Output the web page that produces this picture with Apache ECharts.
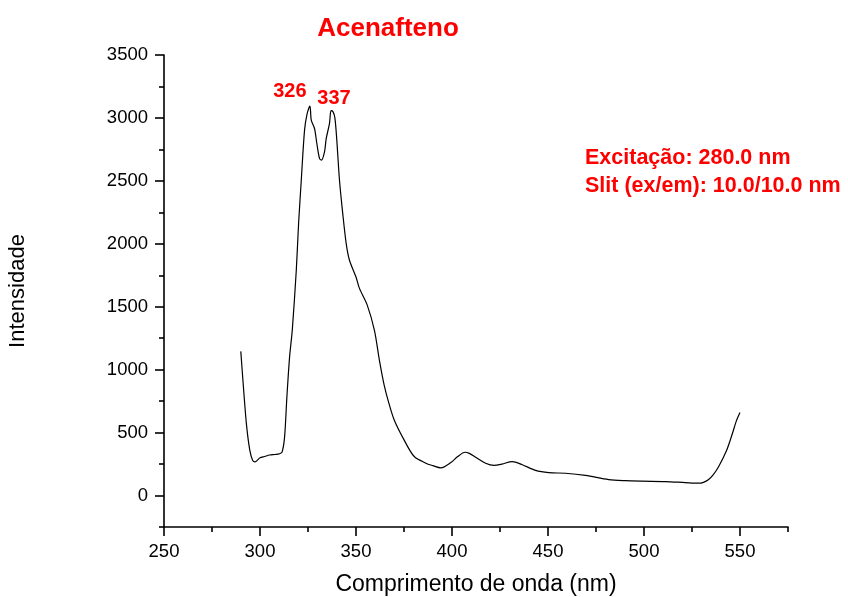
<!DOCTYPE html>
<html>
<head>
<meta charset="utf-8">
<script src="https://cdn.jsdelivr.net/npm/echarts@6/dist/echarts.min.js"></script>
<style>
  html, body { margin: 0; padding: 0; background: #ffffff; }
  #chart { width: 848px; height: 597px; }
</style>
</head>
<body>
<div id="chart"></div>
<script>
// Emission spectrum of acenaphthene (wavelength in nm, intensity in a.u.)
const wavelength = [
  290, 291.5, 293, 294.7, 296.2, 297.5, 300, 302.4, 305, 308, 310.2, 311.5,
  312.8, 314, 315.4, 316.8, 318.9, 320.1, 321.5, 323.2, 324.5, 326, 326.7,
  328.4, 329.6, 331, 332, 333.6, 334.5, 336.2, 337, 338, 339, 340, 341.4,
  343.1, 344.9, 346.6, 350, 351.8, 355.9, 359.6, 362.2, 364.7, 367, 369.9,
  375.1, 380.3, 386.4, 390, 394.2, 399.4, 403, 406.8, 409, 412.3, 417.5,
  421.9, 426, 431.4, 436.6, 443.5, 450.4, 459.1, 469.5, 481.6, 490, 498.9,
  511, 521.4, 528.3, 531, 533.5, 536, 538.7, 543, 546, 548.2, 550
];
const intensity = [
  1145, 835, 557, 358, 278, 268, 300, 310, 322, 326, 332, 345,
  464, 782, 1100, 1312, 1790, 2161, 2505, 2903, 3030, 3095, 2983,
  2916, 2797, 2678, 2665, 2731, 2837, 2957, 3058, 3050, 3000, 2824, 2505,
  2240, 2002, 1869, 1736, 1646, 1511, 1312, 1074, 875, 740, 600,
  440, 310, 257, 238, 220, 262, 310, 344, 335, 305, 257,
  240, 250, 270, 245, 200, 182, 177, 160, 127, 118, 114,
  111, 103, 98, 105, 125, 165, 225, 358, 491, 597, 660
];

// Peak positions marked on the spectrum
const peakWavelengths = [326, 337];

// Axis ticks
const xMajorTicks = [250, 300, 350, 400, 450, 500, 550];
const xMinorTicks = [275, 325, 375, 425, 475, 525, 575];
const yMajorTicks = [0, 500, 1000, 1500, 2000, 2500, 3000, 3500];
const yMinorTicks = [-250, 250, 750, 1250, 1750, 2250, 2750, 3250];

const titleText = 'Acenafteno';
const infoLines = ['Excitação: 280.0 nm', 'Slit (ex/em): 10.0/10.0 nm'];

const points = wavelength.map((w, i) => [w, intensity[i]]);
const peakOffsets = [[-20, -14], [3, -12]];
const peakMarks = peakWavelengths.map((w, i) => {
  const idx = wavelength.indexOf(w);
  return {
    coord: [w, intensity[idx]],
    label: { formatter: String(w), offset: peakOffsets[i] }
  };
});

const FONT = '"Liberation Sans", Arial, Helvetica, sans-serif';
const RED = '#ff0000';
const axisLineStyle = { color: '#000', width: 1.6 };
const plain = v => String(v);

const chart = echarts.init(document.getElementById('chart'), null, { renderer: 'canvas' });

const xBase = {
  type: 'value', min: 250, max: 575,
  splitLine: { show: false },
  axisLine: { onZero: false, lineStyle: axisLineStyle }
};
const yBase = {
  type: 'value', min: -250, max: 3500,
  splitLine: { show: false },
  axisLine: { onZero: false, lineStyle: axisLineStyle }
};

chart.setOption({
  animation: false,
  backgroundColor: '#ffffff',
  grid: { left: 164, right: 60, top: 55, bottom: 70, containLabel: false, outerBoundsMode: 'none' },
  xAxis: [
    Object.assign({}, xBase, {
      position: 'bottom',
      name: 'Comprimento de onda (nm)',
      nameLocation: 'middle',
      nameGap: 46,
      nameTextStyle: { fontFamily: FONT, fontSize: 23, color: '#000' },
      axisTick: { show: true, length: 9, lineStyle: { color: '#000', width: 1.6 }, customValues: xMajorTicks },
      axisLabel: { show: true, margin: 15, fontFamily: FONT, fontSize: 18.5, color: '#000', formatter: plain, customValues: xMajorTicks }
    }),
    Object.assign({}, xBase, {
      position: 'bottom',
      axisLine: { show: false, onZero: false },
      axisTick: { show: true, length: 5, lineStyle: { color: '#000', width: 1.6 }, customValues: xMinorTicks },
      axisLabel: { show: false }
    })
  ],
  yAxis: [
    Object.assign({}, yBase, {
      position: 'left',
      name: 'Intensidade',
      nameLocation: 'middle',
      nameGap: 135,
      nameTextStyle: { fontFamily: FONT, fontSize: 22, color: '#000' },
      axisTick: { show: true, length: 9, lineStyle: { color: '#000', width: 1.6 }, customValues: yMajorTicks },
      axisLabel: { show: true, margin: 16, fontFamily: FONT, fontSize: 18.5, color: '#000', formatter: plain, customValues: yMajorTicks }
    }),
    Object.assign({}, yBase, {
      position: 'left',
      axisLine: { show: false, onZero: false },
      axisTick: { show: true, length: 5, lineStyle: { color: '#000', width: 1.6 }, customValues: yMinorTicks },
      axisLabel: { show: false }
    })
  ],
  series: [{
    type: 'line',
    xAxisIndex: 0,
    yAxisIndex: 0,
    data: points,
    showSymbol: false,
    smooth: 0.3,
    lineStyle: { color: '#000', width: 1.2 },
    markPoint: {
      symbol: 'circle',
      symbolSize: 0,
      label: {
        show: true,
        position: 'inside',
        fontFamily: FONT,
        fontSize: 20,
        fontWeight: 'bold',
        color: RED
      },
      data: peakMarks
    }
  }],
  graphic: [
    {
      type: 'text', x: 388, y: 29,
      style: {
        text: titleText, fontFamily: FONT, fontSize: 26, fontWeight: 'bold',
        fill: RED, textAlign: 'center', textVerticalAlign: 'middle'
      }
    },
    {
      type: 'text', x: 585, y: 158,
      style: {
        text: infoLines[0], fontFamily: FONT, fontSize: 21.5, fontWeight: 'bold',
        fill: RED, textAlign: 'left', textVerticalAlign: 'middle'
      }
    },
    {
      type: 'text', x: 585, y: 186,
      style: {
        text: infoLines[1], fontFamily: FONT, fontSize: 21.5, fontWeight: 'bold',
        fill: RED, textAlign: 'left', textVerticalAlign: 'middle'
      }
    }
  ]
});
</script>
</body>
</html>
